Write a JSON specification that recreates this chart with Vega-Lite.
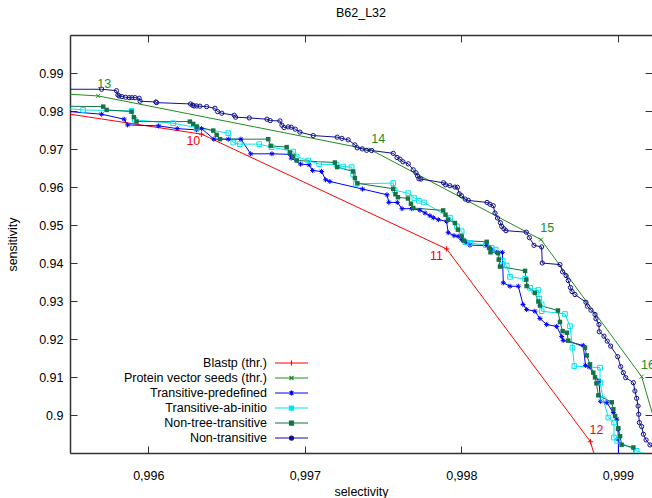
{
"$schema": "https://vega.github.io/schema/vega-lite/v6.json",
"width": 582, "height": 418,
"autosize": {"type": "none"},
"padding": {"left": 70, "top": 35, "right": 0, "bottom": 45},
"title": {"text": "B62_L32", "offset": 15, "fontSize": 12.5, "fontWeight": "normal", "color": "#000", "font": "Liberation Sans"},
"config": {
  "font": "Liberation Sans",
  "view": {"stroke": null},
  "axis": {"labelFontSize": 12.5, "titleFontSize": 12.5, "titleFontWeight": "normal", "labelColor": "#000", "titleColor": "#000", "grid": false, "domainColor": "#333", "domainWidth": 1.5, "tickColor": "#333", "labelFont": "Liberation Sans", "titleFont": "Liberation Sans"}
},
"datasets": {
"curves": [
{"series":"Blastp (thr.)","selectivity":0.995001,"sensitivity":0.98228},
{"series":"Blastp (thr.)","selectivity":0.996341,"sensitivity":0.97390},
{"series":"Blastp (thr.)","selectivity":0.997906,"sensitivity":0.94370},
{"series":"Blastp (thr.)","selectivity":0.998825,"sensitivity":0.89297},
{"series":"Blastp (thr.)","selectivity":0.998966,"sensitivity":0.87262},
{"series":"Protein vector seeds (thr.)","selectivity":0.995001,"sensitivity":0.98564},
{"series":"Protein vector seeds (thr.)","selectivity":0.995680,"sensitivity":0.98396},
{"series":"Protein vector seeds (thr.)","selectivity":0.997422,"sensitivity":0.96978},
{"series":"Protein vector seeds (thr.)","selectivity":0.998509,"sensitivity":0.94615},
{"series":"Protein vector seeds (thr.)","selectivity":0.999152,"sensitivity":0.91009},
{"series":"Protein vector seeds (thr.)","selectivity":0.999416,"sensitivity":0.87262},
{"series":"Transitive-predefined","selectivity":0.995307,"sensitivity":0.98049},
{"series":"Transitive-predefined","selectivity":0.995702,"sensitivity":0.97915},
{"series":"Transitive-predefined","selectivity":0.995846,"sensitivity":0.97784},
{"series":"Transitive-predefined","selectivity":0.995868,"sensitivity":0.97634},
{"series":"Transitive-predefined","selectivity":0.996066,"sensitivity":0.97608},
{"series":"Transitive-predefined","selectivity":0.996185,"sensitivity":0.97537},
{"series":"Transitive-predefined","selectivity":0.996309,"sensitivity":0.97503},
{"series":"Transitive-predefined","selectivity":0.996341,"sensitivity":0.97537},
{"series":"Transitive-predefined","selectivity":0.996419,"sensitivity":0.97259},
{"series":"Transitive-predefined","selectivity":0.996511,"sensitivity":0.97259},
{"series":"Transitive-predefined","selectivity":0.996592,"sensitivity":0.97259},
{"series":"Transitive-predefined","selectivity":0.996654,"sensitivity":0.96873},
{"series":"Transitive-predefined","selectivity":0.996790,"sensitivity":0.96873},
{"series":"Transitive-predefined","selectivity":0.996905,"sensitivity":0.96860},
{"series":"Transitive-predefined","selectivity":0.996913,"sensitivity":0.96760},
{"series":"Transitive-predefined","selectivity":0.996973,"sensitivity":0.96603},
{"series":"Transitive-predefined","selectivity":0.997028,"sensitivity":0.96584},
{"series":"Transitive-predefined","selectivity":0.997050,"sensitivity":0.96434},
{"series":"Transitive-predefined","selectivity":0.997107,"sensitivity":0.96408},
{"series":"Transitive-predefined","selectivity":0.997133,"sensitivity":0.96190},
{"series":"Transitive-predefined","selectivity":0.997160,"sensitivity":0.96146},
{"series":"Transitive-predefined","selectivity":0.997369,"sensitivity":0.95946},
{"series":"Transitive-predefined","selectivity":0.997525,"sensitivity":0.95796},
{"series":"Transitive-predefined","selectivity":0.997537,"sensitivity":0.95594},
{"series":"Transitive-predefined","selectivity":0.997591,"sensitivity":0.95594},
{"series":"Transitive-predefined","selectivity":0.997621,"sensitivity":0.95429},
{"series":"Transitive-predefined","selectivity":0.997683,"sensitivity":0.95429},
{"series":"Transitive-predefined","selectivity":0.997736,"sensitivity":0.95389},
{"series":"Transitive-predefined","selectivity":0.997768,"sensitivity":0.95316},
{"series":"Transitive-predefined","selectivity":0.997799,"sensitivity":0.95245},
{"series":"Transitive-predefined","selectivity":0.997821,"sensitivity":0.95192},
{"series":"Transitive-predefined","selectivity":0.997853,"sensitivity":0.95140},
{"series":"Transitive-predefined","selectivity":0.997906,"sensitivity":0.95095},
{"series":"Transitive-predefined","selectivity":0.997916,"sensitivity":0.94798},
{"series":"Transitive-predefined","selectivity":0.997953,"sensitivity":0.94720},
{"series":"Transitive-predefined","selectivity":0.997980,"sensitivity":0.94701},
{"series":"Transitive-predefined","selectivity":0.998002,"sensitivity":0.94615},
{"series":"Transitive-predefined","selectivity":0.998030,"sensitivity":0.94536},
{"series":"Transitive-predefined","selectivity":0.998055,"sensitivity":0.94470},
{"series":"Transitive-predefined","selectivity":0.998162,"sensitivity":0.94457},
{"series":"Transitive-predefined","selectivity":0.998194,"sensitivity":0.94352},
{"series":"Transitive-predefined","selectivity":0.998226,"sensitivity":0.94281},
{"series":"Transitive-predefined","selectivity":0.998262,"sensitivity":0.94281},
{"series":"Transitive-predefined","selectivity":0.998268,"sensitivity":0.93478},
{"series":"Transitive-predefined","selectivity":0.998311,"sensitivity":0.93388},
{"series":"Transitive-predefined","selectivity":0.998364,"sensitivity":0.93388},
{"series":"Transitive-predefined","selectivity":0.998394,"sensitivity":0.92908},
{"series":"Transitive-predefined","selectivity":0.998417,"sensitivity":0.92776},
{"series":"Transitive-predefined","selectivity":0.998470,"sensitivity":0.92732},
{"series":"Transitive-predefined","selectivity":0.998502,"sensitivity":0.92540},
{"series":"Transitive-predefined","selectivity":0.998545,"sensitivity":0.92382},
{"series":"Transitive-predefined","selectivity":0.998609,"sensitivity":0.92330},
{"series":"Transitive-predefined","selectivity":0.998641,"sensitivity":0.92067},
{"series":"Transitive-predefined","selectivity":0.998651,"sensitivity":0.91962},
{"series":"Transitive-predefined","selectivity":0.998779,"sensitivity":0.91831},
{"series":"Transitive-predefined","selectivity":0.998793,"sensitivity":0.91306},
{"series":"Transitive-predefined","selectivity":0.998816,"sensitivity":0.91266},
{"series":"Transitive-predefined","selectivity":0.998879,"sensitivity":0.90893},
{"series":"Transitive-predefined","selectivity":0.998889,"sensitivity":0.90360},
{"series":"Transitive-predefined","selectivity":0.998929,"sensitivity":0.90326},
{"series":"Transitive-predefined","selectivity":0.998971,"sensitivity":0.90064},
{"series":"Transitive-predefined","selectivity":0.998993,"sensitivity":0.89888},
{"series":"Transitive-predefined","selectivity":0.999001,"sensitivity":0.89625},
{"series":"Transitive-predefined","selectivity":0.999003,"sensitivity":0.89363},
{"series":"Transitive-predefined","selectivity":0.999004,"sensitivity":0.88575},
{"series":"Transitive-ab-initio","selectivity":0.995307,"sensitivity":0.98120},
{"series":"Transitive-ab-initio","selectivity":0.995584,"sensitivity":0.98028},
{"series":"Transitive-ab-initio","selectivity":0.995893,"sensitivity":0.98002},
{"series":"Transitive-ab-initio","selectivity":0.995914,"sensitivity":0.97766},
{"series":"Transitive-ab-initio","selectivity":0.996159,"sensitivity":0.97679},
{"series":"Transitive-ab-initio","selectivity":0.996309,"sensitivity":0.97564},
{"series":"Transitive-ab-initio","selectivity":0.996511,"sensitivity":0.97417},
{"series":"Transitive-ab-initio","selectivity":0.996543,"sensitivity":0.97170},
{"series":"Transitive-ab-initio","selectivity":0.996585,"sensitivity":0.97128},
{"series":"Transitive-ab-initio","selectivity":0.996709,"sensitivity":0.97128},
{"series":"Transitive-ab-initio","selectivity":0.996788,"sensitivity":0.97049},
{"series":"Transitive-ab-initio","selectivity":0.996926,"sensitivity":0.96933},
{"series":"Transitive-ab-initio","selectivity":0.996948,"sensitivity":0.96802},
{"series":"Transitive-ab-initio","selectivity":0.997022,"sensitivity":0.96697},
{"series":"Transitive-ab-initio","selectivity":0.997092,"sensitivity":0.96603},
{"series":"Transitive-ab-initio","selectivity":0.997203,"sensitivity":0.96584},
{"series":"Transitive-ab-initio","selectivity":0.997245,"sensitivity":0.96539},
{"series":"Transitive-ab-initio","selectivity":0.997299,"sensitivity":0.96524},
{"series":"Transitive-ab-initio","selectivity":0.997309,"sensitivity":0.96322},
{"series":"Transitive-ab-initio","selectivity":0.997327,"sensitivity":0.96085},
{"series":"Transitive-ab-initio","selectivity":0.997565,"sensitivity":0.96103},
{"series":"Transitive-ab-initio","selectivity":0.997574,"sensitivity":0.95914},
{"series":"Transitive-ab-initio","selectivity":0.997661,"sensitivity":0.95836},
{"series":"Transitive-ab-initio","selectivity":0.997700,"sensitivity":0.95710},
{"series":"Transitive-ab-initio","selectivity":0.997729,"sensitivity":0.95639},
{"series":"Transitive-ab-initio","selectivity":0.997761,"sensitivity":0.95594},
{"series":"Transitive-ab-initio","selectivity":0.997927,"sensitivity":0.95192},
{"series":"Transitive-ab-initio","selectivity":0.997972,"sensitivity":0.94964},
{"series":"Transitive-ab-initio","selectivity":0.998002,"sensitivity":0.94833},
{"series":"Transitive-ab-initio","selectivity":0.998026,"sensitivity":0.94549},
{"series":"Transitive-ab-initio","selectivity":0.998058,"sensitivity":0.94528},
{"series":"Transitive-ab-initio","selectivity":0.998157,"sensitivity":0.94470},
{"series":"Transitive-ab-initio","selectivity":0.998194,"sensitivity":0.94397},
{"series":"Transitive-ab-initio","selectivity":0.998219,"sensitivity":0.94352},
{"series":"Transitive-ab-initio","selectivity":0.998264,"sensitivity":0.94063},
{"series":"Transitive-ab-initio","selectivity":0.998290,"sensitivity":0.93932},
{"series":"Transitive-ab-initio","selectivity":0.998311,"sensitivity":0.93635},
{"series":"Transitive-ab-initio","selectivity":0.998407,"sensitivity":0.93583},
{"series":"Transitive-ab-initio","selectivity":0.998439,"sensitivity":0.93346},
{"series":"Transitive-ab-initio","selectivity":0.998466,"sensitivity":0.93257},
{"series":"Transitive-ab-initio","selectivity":0.998492,"sensitivity":0.93288},
{"series":"Transitive-ab-initio","selectivity":0.998498,"sensitivity":0.93057},
{"series":"Transitive-ab-initio","selectivity":0.998513,"sensitivity":0.92908},
{"series":"Transitive-ab-initio","selectivity":0.998513,"sensitivity":0.92732},
{"series":"Transitive-ab-initio","selectivity":0.998662,"sensitivity":0.92658},
{"series":"Transitive-ab-initio","selectivity":0.998694,"sensitivity":0.92338},
{"series":"Transitive-ab-initio","selectivity":0.998710,"sensitivity":0.91771},
{"series":"Transitive-ab-initio","selectivity":0.998722,"sensitivity":0.91287},
{"series":"Transitive-ab-initio","selectivity":0.998886,"sensitivity":0.91245},
{"series":"Transitive-ab-initio","selectivity":0.998886,"sensitivity":0.90851},
{"series":"Transitive-ab-initio","selectivity":0.998907,"sensitivity":0.90413},
{"series":"Transitive-ab-initio","selectivity":0.998939,"sensitivity":0.89932},
{"series":"Transitive-ab-initio","selectivity":0.998975,"sensitivity":0.89801},
{"series":"Transitive-ab-initio","selectivity":0.998975,"sensitivity":0.89407},
{"series":"Transitive-ab-initio","selectivity":0.998996,"sensitivity":0.89318},
{"series":"Transitive-ab-initio","selectivity":0.999120,"sensitivity":0.89055},
{"series":"Transitive-ab-initio","selectivity":0.999269,"sensitivity":0.88837},
{"series":"Non-tree-transitive","selectivity":0.995307,"sensitivity":0.98133},
{"series":"Non-tree-transitive","selectivity":0.995712,"sensitivity":0.98115},
{"series":"Non-tree-transitive","selectivity":0.995734,"sensitivity":0.98028},
{"series":"Non-tree-transitive","selectivity":0.995893,"sensitivity":0.97984},
{"series":"Non-tree-transitive","selectivity":0.995908,"sensitivity":0.97837},
{"series":"Non-tree-transitive","selectivity":0.995925,"sensitivity":0.97721},
{"series":"Non-tree-transitive","selectivity":0.996266,"sensitivity":0.97721},
{"series":"Non-tree-transitive","selectivity":0.996287,"sensitivity":0.97661},
{"series":"Non-tree-transitive","selectivity":0.996309,"sensitivity":0.97590},
{"series":"Non-tree-transitive","selectivity":0.996415,"sensitivity":0.97485},
{"series":"Non-tree-transitive","selectivity":0.996437,"sensitivity":0.97372},
{"series":"Non-tree-transitive","selectivity":0.996458,"sensitivity":0.97259},
{"series":"Non-tree-transitive","selectivity":0.996766,"sensitivity":0.97259},
{"series":"Non-tree-transitive","selectivity":0.996782,"sensitivity":0.97083},
{"series":"Non-tree-transitive","selectivity":0.996884,"sensitivity":0.97049},
{"series":"Non-tree-transitive","selectivity":0.996905,"sensitivity":0.96907},
{"series":"Non-tree-transitive","selectivity":0.996926,"sensitivity":0.96802},
{"series":"Non-tree-transitive","selectivity":0.996948,"sensitivity":0.96697},
{"series":"Non-tree-transitive","selectivity":0.997192,"sensitivity":0.96644},
{"series":"Non-tree-transitive","selectivity":0.997207,"sensitivity":0.96524},
{"series":"Non-tree-transitive","selectivity":0.997309,"sensitivity":0.96408},
{"series":"Non-tree-transitive","selectivity":0.997320,"sensitivity":0.96235},
{"series":"Non-tree-transitive","selectivity":0.997336,"sensitivity":0.96098},
{"series":"Non-tree-transitive","selectivity":0.997565,"sensitivity":0.95954},
{"series":"Non-tree-transitive","selectivity":0.997579,"sensitivity":0.95809},
{"series":"Non-tree-transitive","selectivity":0.997595,"sensitivity":0.95731},
{"series":"Non-tree-transitive","selectivity":0.997659,"sensitivity":0.95697},
{"series":"Non-tree-transitive","selectivity":0.997678,"sensitivity":0.95560},
{"series":"Non-tree-transitive","selectivity":0.997693,"sensitivity":0.95447},
{"series":"Non-tree-transitive","selectivity":0.997884,"sensitivity":0.95384},
{"series":"Non-tree-transitive","selectivity":0.997899,"sensitivity":0.95271},
{"series":"Non-tree-transitive","selectivity":0.997915,"sensitivity":0.95140},
{"series":"Non-tree-transitive","selectivity":0.997959,"sensitivity":0.95053},
{"series":"Non-tree-transitive","selectivity":0.997978,"sensitivity":0.94877},
{"series":"Non-tree-transitive","selectivity":0.998002,"sensitivity":0.94701},
{"series":"Non-tree-transitive","selectivity":0.998017,"sensitivity":0.94588},
{"series":"Non-tree-transitive","selectivity":0.998162,"sensitivity":0.94557},
{"series":"Non-tree-transitive","selectivity":0.998178,"sensitivity":0.94397},
{"series":"Non-tree-transitive","selectivity":0.998186,"sensitivity":0.94281},
{"series":"Non-tree-transitive","selectivity":0.998234,"sensitivity":0.94260},
{"series":"Non-tree-transitive","selectivity":0.998239,"sensitivity":0.94089},
{"series":"Non-tree-transitive","selectivity":0.998247,"sensitivity":0.93906},
{"series":"Non-tree-transitive","selectivity":0.998407,"sensitivity":0.93793},
{"series":"Non-tree-transitive","selectivity":0.998415,"sensitivity":0.93564},
{"series":"Non-tree-transitive","selectivity":0.998417,"sensitivity":0.93393},
{"series":"Non-tree-transitive","selectivity":0.998470,"sensitivity":0.93215},
{"series":"Non-tree-transitive","selectivity":0.998492,"sensitivity":0.92987},
{"series":"Non-tree-transitive","selectivity":0.998502,"sensitivity":0.92881},
{"series":"Non-tree-transitive","selectivity":0.998617,"sensitivity":0.92750},
{"series":"Non-tree-transitive","selectivity":0.998630,"sensitivity":0.92448},
{"series":"Non-tree-transitive","selectivity":0.998647,"sensitivity":0.92207},
{"series":"Non-tree-transitive","selectivity":0.998675,"sensitivity":0.92164},
{"series":"Non-tree-transitive","selectivity":0.998683,"sensitivity":0.91957},
{"series":"Non-tree-transitive","selectivity":0.998790,"sensitivity":0.91771},
{"series":"Non-tree-transitive","selectivity":0.998801,"sensitivity":0.91568},
{"series":"Non-tree-transitive","selectivity":0.998822,"sensitivity":0.91332},
{"series":"Non-tree-transitive","selectivity":0.998843,"sensitivity":0.91114},
{"series":"Non-tree-transitive","selectivity":0.998854,"sensitivity":0.90991},
{"series":"Non-tree-transitive","selectivity":0.998863,"sensitivity":0.90833},
{"series":"Non-tree-transitive","selectivity":0.998875,"sensitivity":0.90518},
{"series":"Non-tree-transitive","selectivity":0.998961,"sensitivity":0.90334},
{"series":"Non-tree-transitive","selectivity":0.998971,"sensitivity":0.90150},
{"series":"Non-tree-transitive","selectivity":0.998982,"sensitivity":0.89974},
{"series":"Non-tree-transitive","selectivity":0.999003,"sensitivity":0.89651},
{"series":"Non-tree-transitive","selectivity":0.999014,"sensitivity":0.89441},
{"series":"Non-tree-transitive","selectivity":0.999024,"sensitivity":0.89218},
{"series":"Non-tree-transitive","selectivity":0.999099,"sensitivity":0.89145},
{"series":"Non-tree-transitive","selectivity":0.999116,"sensitivity":0.88575},
{"series":"Non-transitive","selectivity":0.995307,"sensitivity":0.98572},
{"series":"Non-transitive","selectivity":0.995702,"sensitivity":0.98572},
{"series":"Non-transitive","selectivity":0.995797,"sensitivity":0.98535},
{"series":"Non-transitive","selectivity":0.995806,"sensitivity":0.98422},
{"series":"Non-transitive","selectivity":0.995814,"sensitivity":0.98396},
{"series":"Non-transitive","selectivity":0.995831,"sensitivity":0.98378},
{"series":"Non-transitive","selectivity":0.995855,"sensitivity":0.98362},
{"series":"Non-transitive","selectivity":0.995878,"sensitivity":0.98351},
{"series":"Non-transitive","selectivity":0.995895,"sensitivity":0.98351},
{"series":"Non-transitive","selectivity":0.995916,"sensitivity":0.98351},
{"series":"Non-transitive","selectivity":0.995942,"sensitivity":0.98336},
{"series":"Non-transitive","selectivity":0.995948,"sensitivity":0.98257},
{"series":"Non-transitive","selectivity":0.996049,"sensitivity":0.98238},
{"series":"Non-transitive","selectivity":0.996053,"sensitivity":0.98220},
{"series":"Non-transitive","selectivity":0.996270,"sensitivity":0.98186},
{"series":"Non-transitive","selectivity":0.996283,"sensitivity":0.98152},
{"series":"Non-transitive","selectivity":0.996293,"sensitivity":0.98133},
{"series":"Non-transitive","selectivity":0.996309,"sensitivity":0.98133},
{"series":"Non-transitive","selectivity":0.996330,"sensitivity":0.98126},
{"series":"Non-transitive","selectivity":0.996373,"sensitivity":0.98115},
{"series":"Non-transitive","selectivity":0.996426,"sensitivity":0.98073},
{"series":"Non-transitive","selectivity":0.996443,"sensitivity":0.97984},
{"series":"Non-transitive","selectivity":0.996470,"sensitivity":0.97942},
{"series":"Non-transitive","selectivity":0.996549,"sensitivity":0.97889},
{"series":"Non-transitive","selectivity":0.996558,"sensitivity":0.97837},
{"series":"Non-transitive","selectivity":0.996645,"sensitivity":0.97818},
{"series":"Non-transitive","selectivity":0.996758,"sensitivity":0.97784},
{"series":"Non-transitive","selectivity":0.996779,"sensitivity":0.97747},
{"series":"Non-transitive","selectivity":0.996841,"sensitivity":0.97739},
{"series":"Non-transitive","selectivity":0.996854,"sensitivity":0.97627},
{"series":"Non-transitive","selectivity":0.996868,"sensitivity":0.97564},
{"series":"Non-transitive","selectivity":0.996894,"sensitivity":0.97582},
{"series":"Non-transitive","selectivity":0.996913,"sensitivity":0.97574},
{"series":"Non-transitive","selectivity":0.996939,"sensitivity":0.97522},
{"series":"Non-transitive","selectivity":0.996969,"sensitivity":0.97444},
{"series":"Non-transitive","selectivity":0.997054,"sensitivity":0.97354},
{"series":"Non-transitive","selectivity":0.997207,"sensitivity":0.97311},
{"series":"Non-transitive","selectivity":0.997237,"sensitivity":0.97280},
{"series":"Non-transitive","selectivity":0.997277,"sensitivity":0.97241},
{"series":"Non-transitive","selectivity":0.997320,"sensitivity":0.97109},
{"series":"Non-transitive","selectivity":0.997335,"sensitivity":0.97030},
{"series":"Non-transitive","selectivity":0.997367,"sensitivity":0.97004},
{"series":"Non-transitive","selectivity":0.997395,"sensitivity":0.96965},
{"series":"Non-transitive","selectivity":0.997427,"sensitivity":0.96960},
{"series":"Non-transitive","selectivity":0.997565,"sensitivity":0.96886},
{"series":"Non-transitive","selectivity":0.997589,"sensitivity":0.96776},
{"series":"Non-transitive","selectivity":0.997608,"sensitivity":0.96733},
{"series":"Non-transitive","selectivity":0.997627,"sensitivity":0.96663},
{"series":"Non-transitive","selectivity":0.997661,"sensitivity":0.96610},
{"series":"Non-transitive","selectivity":0.997693,"sensitivity":0.96453},
{"series":"Non-transitive","selectivity":0.997710,"sensitivity":0.96374},
{"series":"Non-transitive","selectivity":0.997720,"sensitivity":0.96295},
{"series":"Non-transitive","selectivity":0.997729,"sensitivity":0.96216},
{"series":"Non-transitive","selectivity":0.997742,"sensitivity":0.96209},
{"series":"Non-transitive","selectivity":0.997886,"sensitivity":0.96111},
{"series":"Non-transitive","selectivity":0.997899,"sensitivity":0.96059},
{"series":"Non-transitive","selectivity":0.997927,"sensitivity":0.96033},
{"series":"Non-transitive","selectivity":0.997959,"sensitivity":0.95998},
{"series":"Non-transitive","selectivity":0.997975,"sensitivity":0.95993},
{"series":"Non-transitive","selectivity":0.997987,"sensitivity":0.95822},
{"series":"Non-transitive","selectivity":0.998001,"sensitivity":0.95770},
{"series":"Non-transitive","selectivity":0.998025,"sensitivity":0.95683},
{"series":"Non-transitive","selectivity":0.998044,"sensitivity":0.95647},
{"series":"Non-transitive","selectivity":0.998164,"sensitivity":0.95594},
{"series":"Non-transitive","selectivity":0.998183,"sensitivity":0.95547},
{"series":"Non-transitive","selectivity":0.998204,"sensitivity":0.95507},
{"series":"Non-transitive","selectivity":0.998215,"sensitivity":0.95316},
{"series":"Non-transitive","selectivity":0.998231,"sensitivity":0.95184},
{"series":"Non-transitive","selectivity":0.998249,"sensitivity":0.95061},
{"series":"Non-transitive","selectivity":0.998258,"sensitivity":0.94964},
{"series":"Non-transitive","selectivity":0.998272,"sensitivity":0.94903},
{"series":"Non-transitive","selectivity":0.998285,"sensitivity":0.94851},
{"series":"Non-transitive","selectivity":0.998415,"sensitivity":0.94811},
{"series":"Non-transitive","selectivity":0.998435,"sensitivity":0.94667},
{"series":"Non-transitive","selectivity":0.998464,"sensitivity":0.94465},
{"series":"Non-transitive","selectivity":0.998513,"sensitivity":0.94423},
{"series":"Non-transitive","selectivity":0.998517,"sensitivity":0.94000},
{"series":"Non-transitive","selectivity":0.998630,"sensitivity":0.93958},
{"series":"Non-transitive","selectivity":0.998647,"sensitivity":0.93767},
{"series":"Non-transitive","selectivity":0.998669,"sensitivity":0.93669},
{"series":"Non-transitive","selectivity":0.998683,"sensitivity":0.93538},
{"series":"Non-transitive","selectivity":0.998697,"sensitivity":0.93354},
{"series":"Non-transitive","selectivity":0.998707,"sensitivity":0.93249},
{"series":"Non-transitive","selectivity":0.998726,"sensitivity":0.93170},
{"series":"Non-transitive","selectivity":0.998796,"sensitivity":0.92968},
{"series":"Non-transitive","selectivity":0.998805,"sensitivity":0.92863},
{"series":"Non-transitive","selectivity":0.998828,"sensitivity":0.92758},
{"series":"Non-transitive","selectivity":0.998854,"sensitivity":0.92645},
{"series":"Non-transitive","selectivity":0.998860,"sensitivity":0.92532},
{"series":"Non-transitive","selectivity":0.998879,"sensitivity":0.92382},
{"series":"Non-transitive","selectivity":0.998881,"sensitivity":0.92191},
{"series":"Non-transitive","selectivity":0.998911,"sensitivity":0.92075},
{"series":"Non-transitive","selectivity":0.998932,"sensitivity":0.91944},
{"series":"Non-transitive","selectivity":0.998954,"sensitivity":0.91813},
{"series":"Non-transitive","selectivity":0.998999,"sensitivity":0.91534},
{"series":"Non-transitive","selectivity":0.999018,"sensitivity":0.91272},
{"series":"Non-transitive","selectivity":0.999035,"sensitivity":0.91114},
{"series":"Non-transitive","selectivity":0.999050,"sensitivity":0.90983},
{"series":"Non-transitive","selectivity":0.999099,"sensitivity":0.90851},
{"series":"Non-transitive","selectivity":0.999109,"sensitivity":0.90631},
{"series":"Non-transitive","selectivity":0.999120,"sensitivity":0.90439},
{"series":"Non-transitive","selectivity":0.999129,"sensitivity":0.90237},
{"series":"Non-transitive","selectivity":0.999133,"sensitivity":0.90019},
{"series":"Non-transitive","selectivity":0.999137,"sensitivity":0.89801},
{"series":"Non-transitive","selectivity":0.999152,"sensitivity":0.89696},
{"series":"Non-transitive","selectivity":0.999163,"sensitivity":0.89494},
{"series":"Non-transitive","selectivity":0.999180,"sensitivity":0.89344},
{"series":"Non-transitive","selectivity":0.999205,"sensitivity":0.89213},
{"series":"Non-transitive","selectivity":0.999269,"sensitivity":0.89074},
{"series":"Non-transitive","selectivity":0.999397,"sensitivity":0.88837}
],
"labels": [
{"label":"10","series":"Blastp (thr.)","selectivity":0.996288,"sensitivity":0.97214},
{"label":"11","series":"Blastp (thr.)","selectivity":0.997841,"sensitivity":0.94181},
{"label":"12","series":"Blastp (thr.)","selectivity":0.998863,"sensitivity":0.89612},
{"label":"13","series":"Protein vector seeds (thr.)","selectivity":0.995719,"sensitivity":0.98703},
{"label":"14","series":"Protein vector seeds (thr.)","selectivity":0.997469,"sensitivity":0.97267},
{"label":"15","series":"Protein vector seeds (thr.)","selectivity":0.998549,"sensitivity":0.94922},
{"label":"16","series":"Protein vector seeds (thr.)","selectivity":0.999192,"sensitivity":0.91306}
]
},
"resolve": {"axis": {"x": "independent", "y": "independent"}},
"layer": [
{
  "data": {"name": "curves"},
  "mark": {"type": "line", "clip": true, "strokeWidth": 1},
  "encoding": {
    "x": {"field": "selectivity", "type": "quantitative", "scale": {"domain": [0.9955, 0.999218], "nice": false, "zero": false},
      "axis": {"title": "selectivity", "values": [0.996, 0.997, 0.998, 0.999], "labelExpr": "replace(format(datum.value, '.3f'), '.', ',')", "tickSize": -7, "labelPadding": 23, "titleY": 38, "titleBaseline": "middle"}},
    "y": {"field": "sensitivity", "type": "quantitative", "scale": {"domain": [0.89, 1.0], "nice": false, "zero": false},
      "axis": {"title": "sensitivity", "values": [0.9, 0.91, 0.92, 0.93, 0.94, 0.95, 0.96, 0.97, 0.98, 0.99], "format": ".2~f", "tickSize": -7, "labelPadding": 14, "titleX": -58, "titleY": 209, "titleBaseline": "middle", "titleAngle": -90}},
    "color": {"field": "series", "type": "nominal",
      "scale": {"domain": ["Blastp (thr.)", "Protein vector seeds (thr.)", "Transitive-predefined", "Transitive-ab-initio", "Non-tree-transitive", "Non-transitive"], "range": ["#ff0000", "#228b22", "#0000ff", "#00e5ee", "#157347", "#10108f"]},
      "legend": {"orient": "none", "legendX": 204, "legendY": 319.5, "title": null, "padding": 0, "symbolSize": 225, "symbolOffset": 9, "symbolStrokeWidth": 1.2, "symbolType": "M-2.2,0H2.2", "rowPadding": 0, "labelFont": "Liberation Sans", "labelFontSize": 12.5, "labelColor": "#000", "labelLimit": 0,
        "encode": {
          "labels": {"update": {"x": {"value": -7}, "align": {"value": "right"}}},
          "symbols": {"update": {
            "shape": {"signal": "datum.value === 'Blastp (thr.)' ? 'M-2.2,0H2.2M0,-0.33V0.33' : datum.value === 'Protein vector seeds (thr.)' ? 'M-2.2,0H2.2M-0.27,-0.27L0.27,0.27M-0.27,0.27L0.27,-0.27' : datum.value === 'Transitive-predefined' ? 'M-2.2,0H2.2M0,-0.33V0.33M-0.25,-0.25L0.25,0.25M-0.25,0.25L0.25,-0.25' : (datum.value === 'Transitive-ab-initio' || datum.value === 'Non-tree-transitive') ? 'M-2.2,0H2.2M-0.27,-0.27H0.27V0.27H-0.27Z' : 'M-2.2,0H2.2M0.27,0A0.27,0.27,0,1,1,-0.27,0A0.27,0.27,0,1,1,0.27,0'"},
            "fill": {"signal": "datum.value === 'Non-tree-transitive' ? '#157347' : 'transparent'"}
          }}
        }
      }
    },
    "order": {"value": null}
  }
},
{
  "data": {"name": "curves"},
  "transform": [{"filter": {"field": "series", "equal": "Blastp (thr.)"}}],
  "mark": {"type": "point", "clip": true, "filled": false, "shape": "M-1,0H1M0,-1V1", "size": 30, "color": "#ff0000", "strokeWidth": 1, "opacity": 1},
  "encoding": {"x": {"field": "selectivity", "type": "quantitative", "axis": null}, "y": {"field": "sensitivity", "type": "quantitative", "axis": null}}
},
{
  "data": {"name": "curves"},
  "transform": [{"filter": {"field": "series", "equal": "Protein vector seeds (thr.)"}}],
  "mark": {"type": "point", "clip": true, "filled": false, "shape": "M-0.8,-0.8L0.8,0.8M-0.8,0.8L0.8,-0.8", "size": 25, "color": "#228b22", "strokeWidth": 1, "opacity": 1},
  "encoding": {"x": {"field": "selectivity", "type": "quantitative", "axis": null}, "y": {"field": "sensitivity", "type": "quantitative", "axis": null}}
},
{
  "data": {"name": "curves"},
  "transform": [{"filter": {"field": "series", "equal": "Transitive-predefined"}}],
  "mark": {"type": "point", "clip": true, "filled": false, "shape": "M-1,0H1M0,-1V1M-0.7,-0.7L0.7,0.7M-0.7,0.7L0.7,-0.7", "size": 25, "color": "#0000ff", "strokeWidth": 1, "opacity": 1},
  "encoding": {"x": {"field": "selectivity", "type": "quantitative", "axis": null}, "y": {"field": "sensitivity", "type": "quantitative", "axis": null}}
},
{
  "data": {"name": "curves"},
  "transform": [{"filter": {"field": "series", "equal": "Transitive-ab-initio"}}],
  "mark": {"type": "point", "clip": true, "filled": false, "shape": "square", "size": 22, "color": "#00e5ee", "strokeWidth": 1, "opacity": 1},
  "encoding": {"x": {"field": "selectivity", "type": "quantitative", "axis": null}, "y": {"field": "sensitivity", "type": "quantitative", "axis": null}}
},
{
  "data": {"name": "curves"},
  "transform": [{"filter": {"field": "series", "equal": "Non-tree-transitive"}}],
  "mark": {"type": "point", "clip": true, "filled": true, "shape": "square", "size": 20, "color": "#157347", "opacity": 1},
  "encoding": {"x": {"field": "selectivity", "type": "quantitative", "axis": null}, "y": {"field": "sensitivity", "type": "quantitative", "axis": null}}
},
{
  "data": {"name": "curves"},
  "transform": [{"filter": {"field": "series", "equal": "Non-transitive"}}],
  "mark": {"type": "point", "clip": true, "filled": false, "shape": "circle", "size": 18, "color": "#10108f", "strokeWidth": 1, "opacity": 1},
  "encoding": {"x": {"field": "selectivity", "type": "quantitative", "axis": null}, "y": {"field": "sensitivity", "type": "quantitative", "axis": null}}
},
{
  "data": {"name": "labels"},
  "mark": {"type": "text", "fontSize": 12.5, "font": "Liberation Sans", "align": "center", "baseline": "middle"},
  "encoding": {
    "x": {"field": "selectivity", "type": "quantitative", "axis": {"orient": "top", "title": null, "labels": false, "values": [0.996, 0.997, 0.998, 0.999], "tickSize": -7}},
    "y": {"field": "sensitivity", "type": "quantitative", "axis": {"orient": "right", "title": null, "labels": false, "domain": false, "values": [0.9, 0.91, 0.92, 0.93, 0.94, 0.95, 0.96, 0.97, 0.98, 0.99], "tickSize": -7}},
    "text": {"field": "label"},
    "color": {"field": "series", "type": "nominal", "legend": null}
  }
}
]
}
